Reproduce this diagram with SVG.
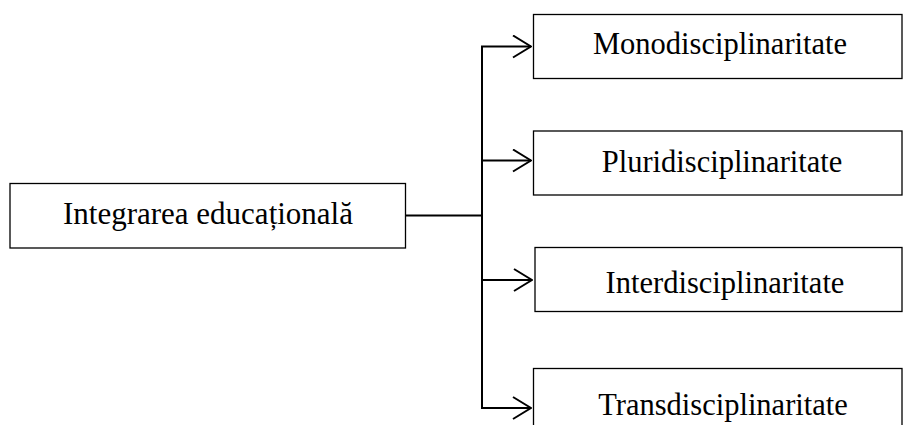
<svg xmlns="http://www.w3.org/2000/svg" width="903" height="425" viewBox="0 0 903 425">
<style>
.box{fill:#fff;stroke:#000;stroke-width:1.3}
.lbl{font-family:"Liberation Serif","Times New Roman",serif;font-size:30.5px;fill:#000;text-anchor:middle}
.con{fill:none;stroke:#000;stroke-width:2}
</style>
<defs>
<marker id="arr" viewBox="0 0 20 24" refX="19" refY="12" markerWidth="20" markerHeight="24" markerUnits="userSpaceOnUse" orient="auto">
<path d="M1,1 L19,12 L1,23" fill="none" stroke="#000" stroke-width="2"/>
</marker>
</defs>
<rect width="903" height="425" fill="#fff"/>
<g id="n0">
<rect class="box" x="10" y="183.5" width="395.5" height="64.5"/>
<text class="lbl" x="208" y="223.5" style="font-size:31px">Integrarea educațională</text>
</g>
<g id="n1">
<rect class="box" x="533.5" y="14.5" width="368.5" height="64"/>
<text class="lbl" x="720" y="54">Monodisciplinaritate</text>
</g>
<g id="n2">
<rect class="box" x="533.5" y="131" width="368.5" height="64"/>
<text class="lbl" x="722" y="171.5">Pluridisciplinaritate</text>
</g>
<g id="n3">
<rect class="box" x="535" y="247.5" width="367" height="64"/>
<text class="lbl" x="725" y="293">Interdisciplinaritate</text>
</g>
<g id="n4">
<rect class="box" x="533.5" y="368.5" width="368.5" height="70"/>
<text class="lbl" x="723" y="415">Transdisciplinaritate</text>
</g>
<g id="connectors">
<line class="con" x1="405.5" y1="215.5" x2="482" y2="215.5"/>
<line class="con" x1="482" y1="46.5" x2="482" y2="408"/>
<line class="con" x1="481" y1="46.5" x2="531" y2="46.5" marker-end="url(#arr)"/>
<line class="con" x1="482" y1="160.5" x2="531" y2="160.5" marker-end="url(#arr)"/>
<line class="con" x1="482" y1="280" x2="532" y2="280" marker-end="url(#arr)"/>
<line class="con" x1="481" y1="408" x2="531" y2="408" marker-end="url(#arr)"/>
</g>
</svg>
